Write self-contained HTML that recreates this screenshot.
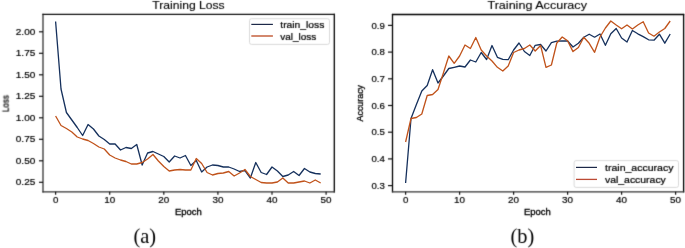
<!DOCTYPE html><html><head><meta charset="utf-8"><style>html,body{margin:0;padding:0;background:#fff;}svg{display:block;}</style></head><body>
<svg width="685" height="248" viewBox="0 0 685 248" font-family='"Liberation Sans", sans-serif'>
<rect width="685" height="248" fill="#fff"/>
<defs><filter id="bl" x="0" y="0" width="685" height="248" filterUnits="userSpaceOnUse" primitiveUnits="userSpaceOnUse" color-interpolation-filters="sRGB"><feConvolveMatrix order="3" kernelMatrix="0.0225 0.1500 0.0225 0.1500 1.0000 0.1500 0.0225 0.1500 0.0225" edgeMode="duplicate" preserveAlpha="true"/></filter></defs>
<g filter="url(#bl)">
<rect width="685" height="248" fill="#fff"/>
<line x1="43.0" y1="13.8" x2="43.0" y2="192.4" stroke="#333" stroke-width="1.3"/>
<line x1="334.3" y1="13.8" x2="334.3" y2="192.4" stroke="#000" stroke-width="1.3"/>
<line x1="42.4" y1="14.4" x2="334.90000000000003" y2="14.4" stroke="#111" stroke-width="1.2"/>
<line x1="42.4" y1="191.8" x2="334.90000000000003" y2="191.8" stroke="#333" stroke-width="1.3"/>
<line x1="392.5" y1="13.9" x2="392.5" y2="192.4" stroke="#000" stroke-width="1.3"/>
<line x1="683.6" y1="13.9" x2="683.6" y2="192.4" stroke="#000" stroke-width="1.3"/>
<line x1="391.9" y1="14.5" x2="684.2" y2="14.5" stroke="#000" stroke-width="1.3"/>
<line x1="391.9" y1="191.8" x2="684.2" y2="191.8" stroke="#333" stroke-width="1.3"/>
<line x1="39" y1="31.8" x2="43.0" y2="31.8" stroke="#111" stroke-width="1.2"/>
<text x="35.30" y="34.90" font-size="8.6" text-anchor="end" fill="#000" textLength="19.5" lengthAdjust="spacingAndGlyphs" stroke="#000" stroke-width="0.18">2.00</text>
<line x1="39" y1="53.3" x2="43.0" y2="53.3" stroke="#111" stroke-width="1.2"/>
<text x="35.30" y="56.40" font-size="8.6" text-anchor="end" fill="#000" textLength="19.5" lengthAdjust="spacingAndGlyphs" stroke="#000" stroke-width="0.18">1.75</text>
<line x1="39" y1="74.8" x2="43.0" y2="74.8" stroke="#111" stroke-width="1.2"/>
<text x="35.30" y="77.90" font-size="8.6" text-anchor="end" fill="#000" textLength="19.5" lengthAdjust="spacingAndGlyphs" stroke="#000" stroke-width="0.18">1.50</text>
<line x1="39" y1="96.3" x2="43.0" y2="96.3" stroke="#111" stroke-width="1.2"/>
<text x="35.30" y="99.40" font-size="8.6" text-anchor="end" fill="#000" textLength="19.5" lengthAdjust="spacingAndGlyphs" stroke="#000" stroke-width="0.18">1.25</text>
<line x1="39" y1="117.8" x2="43.0" y2="117.8" stroke="#111" stroke-width="1.2"/>
<text x="35.30" y="120.90" font-size="8.6" text-anchor="end" fill="#000" textLength="19.5" lengthAdjust="spacingAndGlyphs" stroke="#000" stroke-width="0.18">1.00</text>
<line x1="39" y1="139.3" x2="43.0" y2="139.3" stroke="#111" stroke-width="1.2"/>
<text x="35.30" y="142.40" font-size="8.6" text-anchor="end" fill="#000" textLength="19.5" lengthAdjust="spacingAndGlyphs" stroke="#000" stroke-width="0.18">0.75</text>
<line x1="39" y1="160.8" x2="43.0" y2="160.8" stroke="#111" stroke-width="1.2"/>
<text x="35.30" y="163.90" font-size="8.6" text-anchor="end" fill="#000" textLength="19.5" lengthAdjust="spacingAndGlyphs" stroke="#000" stroke-width="0.18">0.50</text>
<line x1="39" y1="182.3" x2="43.0" y2="182.3" stroke="#111" stroke-width="1.2"/>
<text x="35.30" y="185.40" font-size="8.6" text-anchor="end" fill="#000" textLength="19.5" lengthAdjust="spacingAndGlyphs" stroke="#000" stroke-width="0.18">0.25</text>
<line x1="55.60" y1="191.8" x2="55.60" y2="194.70000000000002" stroke="#111" stroke-width="1.2"/>
<text x="55.60" y="202.60" font-size="8.6" text-anchor="middle" fill="#000" textLength="5.4" lengthAdjust="spacingAndGlyphs" stroke="#000" stroke-width="0.18">0</text>
<line x1="109.70" y1="191.8" x2="109.70" y2="194.70000000000002" stroke="#111" stroke-width="1.2"/>
<text x="109.70" y="202.60" font-size="8.6" text-anchor="middle" fill="#000" textLength="11.0" lengthAdjust="spacingAndGlyphs" stroke="#000" stroke-width="0.18">10</text>
<line x1="163.80" y1="191.8" x2="163.80" y2="194.70000000000002" stroke="#111" stroke-width="1.2"/>
<text x="163.80" y="202.60" font-size="8.6" text-anchor="middle" fill="#000" textLength="11.0" lengthAdjust="spacingAndGlyphs" stroke="#000" stroke-width="0.18">20</text>
<line x1="217.90" y1="191.8" x2="217.90" y2="194.70000000000002" stroke="#111" stroke-width="1.2"/>
<text x="217.90" y="202.60" font-size="8.6" text-anchor="middle" fill="#000" textLength="11.0" lengthAdjust="spacingAndGlyphs" stroke="#000" stroke-width="0.18">30</text>
<line x1="272.00" y1="191.8" x2="272.00" y2="194.70000000000002" stroke="#111" stroke-width="1.2"/>
<text x="272.00" y="202.60" font-size="8.6" text-anchor="middle" fill="#000" textLength="11.0" lengthAdjust="spacingAndGlyphs" stroke="#000" stroke-width="0.18">40</text>
<line x1="326.10" y1="191.8" x2="326.10" y2="194.70000000000002" stroke="#111" stroke-width="1.2"/>
<text x="326.10" y="202.60" font-size="8.6" text-anchor="middle" fill="#000" textLength="11.0" lengthAdjust="spacingAndGlyphs" stroke="#000" stroke-width="0.18">50</text>
<line x1="388" y1="25.4" x2="392.5" y2="25.4" stroke="#111" stroke-width="1.2"/>
<text x="384.90" y="28.50" font-size="8.6" text-anchor="end" fill="#000" textLength="13.4" lengthAdjust="spacingAndGlyphs" stroke="#000" stroke-width="0.18">0.9</text>
<line x1="388" y1="52.1" x2="392.5" y2="52.1" stroke="#111" stroke-width="1.2"/>
<text x="384.90" y="55.20" font-size="8.6" text-anchor="end" fill="#000" textLength="13.4" lengthAdjust="spacingAndGlyphs" stroke="#000" stroke-width="0.18">0.8</text>
<line x1="388" y1="78.8" x2="392.5" y2="78.8" stroke="#111" stroke-width="1.2"/>
<text x="384.90" y="81.90" font-size="8.6" text-anchor="end" fill="#000" textLength="13.4" lengthAdjust="spacingAndGlyphs" stroke="#000" stroke-width="0.18">0.7</text>
<line x1="388" y1="105.5" x2="392.5" y2="105.5" stroke="#111" stroke-width="1.2"/>
<text x="384.90" y="108.60" font-size="8.6" text-anchor="end" fill="#000" textLength="13.4" lengthAdjust="spacingAndGlyphs" stroke="#000" stroke-width="0.18">0.6</text>
<line x1="388" y1="132.2" x2="392.5" y2="132.2" stroke="#111" stroke-width="1.2"/>
<text x="384.90" y="135.30" font-size="8.6" text-anchor="end" fill="#000" textLength="13.4" lengthAdjust="spacingAndGlyphs" stroke="#000" stroke-width="0.18">0.5</text>
<line x1="388" y1="158.9" x2="392.5" y2="158.9" stroke="#111" stroke-width="1.2"/>
<text x="384.90" y="162.00" font-size="8.6" text-anchor="end" fill="#000" textLength="13.4" lengthAdjust="spacingAndGlyphs" stroke="#000" stroke-width="0.18">0.4</text>
<line x1="388" y1="185.6" x2="392.5" y2="185.6" stroke="#111" stroke-width="1.2"/>
<text x="384.90" y="188.70" font-size="8.6" text-anchor="end" fill="#000" textLength="13.4" lengthAdjust="spacingAndGlyphs" stroke="#000" stroke-width="0.18">0.3</text>
<line x1="405.60" y1="191.8" x2="405.60" y2="194.70000000000002" stroke="#111" stroke-width="1.2"/>
<text x="405.60" y="202.60" font-size="8.6" text-anchor="middle" fill="#000" textLength="5.4" lengthAdjust="spacingAndGlyphs" stroke="#000" stroke-width="0.18">0</text>
<line x1="459.60" y1="191.8" x2="459.60" y2="194.70000000000002" stroke="#111" stroke-width="1.2"/>
<text x="459.60" y="202.60" font-size="8.6" text-anchor="middle" fill="#000" textLength="11.0" lengthAdjust="spacingAndGlyphs" stroke="#000" stroke-width="0.18">10</text>
<line x1="513.60" y1="191.8" x2="513.60" y2="194.70000000000002" stroke="#111" stroke-width="1.2"/>
<text x="513.60" y="202.60" font-size="8.6" text-anchor="middle" fill="#000" textLength="11.0" lengthAdjust="spacingAndGlyphs" stroke="#000" stroke-width="0.18">20</text>
<line x1="567.60" y1="191.8" x2="567.60" y2="194.70000000000002" stroke="#111" stroke-width="1.2"/>
<text x="567.60" y="202.60" font-size="8.6" text-anchor="middle" fill="#000" textLength="11.0" lengthAdjust="spacingAndGlyphs" stroke="#000" stroke-width="0.18">30</text>
<line x1="621.60" y1="191.8" x2="621.60" y2="194.70000000000002" stroke="#111" stroke-width="1.2"/>
<text x="621.60" y="202.60" font-size="8.6" text-anchor="middle" fill="#000" textLength="11.0" lengthAdjust="spacingAndGlyphs" stroke="#000" stroke-width="0.18">40</text>
<line x1="675.60" y1="191.8" x2="675.60" y2="194.70000000000002" stroke="#111" stroke-width="1.2"/>
<text x="675.60" y="202.60" font-size="8.6" text-anchor="middle" fill="#000" textLength="11.0" lengthAdjust="spacingAndGlyphs" stroke="#000" stroke-width="0.18">50</text>
<text x="188.40" y="214.80" font-size="8.8" text-anchor="middle" fill="#000" textLength="26.8" lengthAdjust="spacingAndGlyphs" stroke="#000" stroke-width="0.3">Epoch</text>
<text x="537.40" y="214.80" font-size="8.8" text-anchor="middle" fill="#000" textLength="26.8" lengthAdjust="spacingAndGlyphs" stroke="#000" stroke-width="0.3">Epoch</text>
<text transform="translate(8.6,103.6) rotate(-90)" font-size="9.9" text-anchor="middle" fill="#000" stroke="#000" stroke-width="0.3" textLength="16.8" lengthAdjust="spacingAndGlyphs">Loss</text>
<text transform="translate(362.6,103.2) rotate(-90)" font-size="9.2" text-anchor="middle" fill="#000" stroke="#000" stroke-width="0.3" textLength="36.4" lengthAdjust="spacingAndGlyphs">Accuracy</text>
<text x="188.50" y="9.20" font-size="10.9" text-anchor="middle" fill="#000" textLength="72.3" lengthAdjust="spacingAndGlyphs" stroke="#000" stroke-width="0.12">Training Loss</text>
<text x="537.20" y="9.20" font-size="10.9" text-anchor="middle" fill="#000" textLength="99.5" lengthAdjust="spacingAndGlyphs" stroke="#000" stroke-width="0.12">Training Accuracy</text>
<rect x="249.5" y="18.7" width="80" height="25.7" rx="2" fill="#fff" fill-opacity="0.8" stroke="#cfcfcf" stroke-width="0.8"/>
<text x="280.30" y="27.90" font-size="9.4" text-anchor="start" fill="#000" textLength="44.0" lengthAdjust="spacingAndGlyphs" stroke="#000" stroke-width="0.22">train_loss</text>
<text x="280.30" y="39.80" font-size="9.4" text-anchor="start" fill="#000" textLength="36.0" lengthAdjust="spacingAndGlyphs" stroke="#000" stroke-width="0.22">val_loss</text>
<rect x="574.1" y="160.6" width="104.4" height="26.8" rx="2" fill="#fff" fill-opacity="0.8" stroke="#cfcfcf" stroke-width="0.8"/>
<text x="605.00" y="171.20" font-size="9.4" text-anchor="start" fill="#000" textLength="68.5" lengthAdjust="spacingAndGlyphs" stroke="#000" stroke-width="0.22">train_accuracy</text>
<text x="605.00" y="183.00" font-size="9.4" text-anchor="start" fill="#000" textLength="60.8" lengthAdjust="spacingAndGlyphs" stroke="#000" stroke-width="0.22">val_accuracy</text>
<text x="144.7" y="242.6" font-size="20.4" font-family='"Liberation Serif", serif' text-anchor="middle" fill="#000">(a)</text>
<text x="522.3" y="242.6" font-size="20.4" font-family='"Liberation Serif", serif' text-anchor="middle" fill="#000">(b)</text>
</g>
<polyline points="55.60,21.50 61.01,89.00 66.42,112.50 71.83,120.00 77.24,127.50 82.65,135.50 88.06,124.50 93.47,129.00 98.88,136.00 104.29,139.50 109.70,144.00 115.11,144.00 120.52,150.00 125.93,147.50 131.34,148.50 136.75,144.50 142.16,165.00 147.57,153.00 152.98,151.50 158.39,154.00 163.80,156.50 169.21,162.00 174.62,156.00 180.03,158.00 185.44,155.50 190.85,165.50 196.26,160.50 201.67,172.00 207.08,167.00 212.49,165.00 217.90,165.50 223.31,167.00 228.72,167.00 234.13,169.00 239.54,171.50 244.95,170.50 250.36,178.00 255.77,162.50 261.18,172.50 266.59,174.50 272.00,167.00 277.41,171.00 282.82,176.50 288.23,175.00 293.64,171.50 299.05,175.50 304.46,168.50 309.87,172.00 315.28,173.50 320.69,174.00" fill="none" stroke="#15305c" stroke-width="1.3" stroke-linejoin="round"/>
<polyline points="55.60,116.00 61.01,125.50 66.42,128.50 71.83,132.00 77.24,137.00 82.65,139.00 88.06,140.50 93.47,143.50 98.88,147.00 104.29,149.00 109.70,155.00 115.11,158.00 120.52,160.00 125.93,161.50 131.34,164.00 136.75,164.00 142.16,162.50 147.57,159.00 152.98,154.50 158.39,161.00 163.80,166.50 169.21,171.00 174.62,170.00 180.03,169.50 185.44,170.00 190.85,170.00 196.26,158.50 201.67,163.50 207.08,172.50 212.49,175.00 217.90,173.50 223.31,173.00 228.72,171.50 234.13,176.00 239.54,173.00 244.95,169.50 250.36,176.50 255.77,179.50 261.18,182.50 266.59,183.00 272.00,183.00 277.41,182.00 282.82,178.00 288.23,183.00 293.64,183.00 299.05,182.00 304.46,181.00 309.87,183.00 315.28,180.00 320.69,183.00" fill="none" stroke="#c0521a" stroke-width="1.3" stroke-linejoin="round"/>
<polyline points="405.60,183.00 411.00,118.50 416.40,104.50 421.80,91.00 427.20,85.50 432.60,69.70 438.00,83.00 443.40,76.00 448.80,68.50 454.20,67.30 459.60,66.00 465.00,67.00 470.40,60.00 475.80,62.00 481.20,52.50 486.60,59.50 492.00,45.50 497.40,57.30 502.80,59.30 508.20,59.70 513.60,50.00 519.00,43.00 524.40,51.50 529.80,55.50 535.20,45.30 540.60,44.50 546.00,51.00 551.40,42.70 556.80,41.10 562.20,41.00 567.60,41.00 573.00,47.00 578.40,43.30 583.80,37.20 589.20,34.20 594.60,37.20 600.00,34.00 605.40,45.30 610.80,33.80 616.20,28.50 621.60,38.00 627.00,42.00 632.40,30.50 637.80,33.80 643.20,36.60 648.60,39.80 654.00,40.20 659.40,34.20 664.80,43.20 670.20,34.00" fill="none" stroke="#15305c" stroke-width="1.3" stroke-linejoin="round"/>
<polyline points="405.60,142.00 411.00,118.50 416.40,117.50 421.80,114.00 427.20,95.50 432.60,94.50 438.00,89.50 443.40,73.00 448.80,56.00 454.20,63.30 459.60,56.00 465.00,45.00 470.40,48.50 475.80,37.50 481.20,50.00 486.60,56.00 492.00,61.00 497.40,67.30 502.80,71.00 508.20,66.00 513.60,52.50 519.00,50.00 524.40,48.50 529.80,45.00 535.20,51.00 540.60,45.50 546.00,67.30 551.40,65.00 556.80,43.00 562.20,37.00 567.60,40.70 573.00,51.60 578.40,47.50 583.80,37.20 589.20,43.30 594.60,52.30 600.00,37.00 605.40,28.00 610.80,21.00 616.20,25.00 621.60,28.80 627.00,25.00 632.40,29.00 637.80,25.00 643.20,21.70 648.60,33.00 654.00,36.20 659.40,32.00 664.80,28.50 670.20,21.00" fill="none" stroke="#c0521a" stroke-width="1.3" stroke-linejoin="round"/>
<line x1="251.3" y1="24.4" x2="272.9" y2="24.4" stroke="#1c2848" stroke-width="1.2"/>
<line x1="251.3" y1="36.0" x2="272.9" y2="36.0" stroke="#c4603e" stroke-width="1.5"/>
<line x1="576.0" y1="167.4" x2="597.0" y2="167.4" stroke="#1c2848" stroke-width="1.2"/>
<line x1="576.0" y1="179.4" x2="597.0" y2="179.4" stroke="#bc4a34" stroke-width="1.3"/>
</svg></body></html>
